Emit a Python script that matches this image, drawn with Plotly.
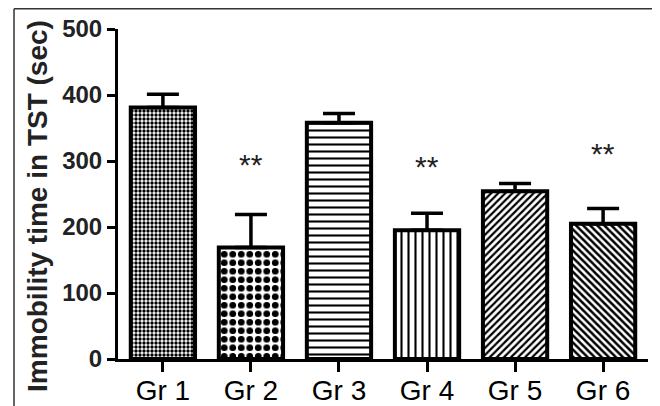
import plotly.graph_objects as go

groups = ["Gr 1", "Gr 2", "Gr 3", "Gr 4", "Gr 5", "Gr 6"]
means = [381, 169, 358, 195, 254, 205]
sem = [20, 50, 14, 26, 12, 23]
sig_groups = ["Gr 2", "Gr 4", "Gr 6"]
sig_y = [295, 292, 312]
sig_text = ["**", "**", "**"]
y_ticks = [0, 100, 200, 300, 400, 500]

pattern_shapes = [".", ".", "-", "|", "/", "\\"]
pattern_sizes = [4, 8.5, 7, 7, 5, 5]
pattern_solid = [0.55, 0.5, 0.3, 0.3, 0.45, 0.5]

FONT = "Liberation Sans, Arial, sans-serif"

fig = go.Figure()
fig.add_trace(go.Bar(
    x=groups, y=means, width=0.73,
    marker=dict(
        color="white",
        line=dict(color="black", width=4),
        pattern=dict(shape=pattern_shapes, size=pattern_sizes,
                     solidity=pattern_solid, fgcolor="black",
                     bgcolor="white", fillmode="replace"),
    ),
    error_y=dict(type="data", symmetric=False, array=sem,
                 arrayminus=[0] * len(sem), color="black",
                 thickness=3.5, width=16),
    showlegend=False,
))

for g, yv, t in zip(sig_groups, sig_y, sig_text):
    fig.add_annotation(x=g, y=yv, text=t, showarrow=False,
                       font=dict(family=FONT, size=30, color="#222"),
                       xanchor="center", yanchor="middle")

fig.add_annotation(x=-0.153, y=0.4636, xref="paper", yref="paper",
                   text="Immobility time in TST (sec)", textangle=-90,
                   showarrow=False, xanchor="center", yanchor="middle",
                   font=dict(family=FONT, size=28, color="#222", weight="bold"))

# outer frame
fig.add_shape(type="line", xref="paper", yref="paper",
              x0=-0.1962, x1=1.0208, y0=1.0614, y1=1.0614,
              line=dict(color="#333", width=1.5))
fig.add_shape(type="line", xref="paper", yref="paper",
              x0=-0.1962, x1=-0.1962, y0=1.0614, y1=-0.25,
              line=dict(color="#333", width=1.5))
fig.add_shape(type="line", xref="paper", yref="paper",
              x0=1.0208, x1=1.0208, y0=1.0614, y1=-0.25,
              line=dict(color="#bbb", width=1.5))

fig.update_layout(
    width=652, height=398,
    margin=dict(l=110, r=12, t=21, b=47, autoexpand=False),
    paper_bgcolor="white", plot_bgcolor="white",
    font=dict(family=FONT, color="black"),
    xaxis=dict(
        range=[-0.51, 5.51], showline=True, linecolor="black", linewidth=3,
        ticks="outside", ticklen=10, tickwidth=2.5, tickcolor="black",
        tickfont=dict(family=FONT, size=28, color="black"),
        ticklabelstandoff=-6,
        showgrid=False, zeroline=False, automargin=False,
    ),
    yaxis=dict(
        range=[0, 500], tickvals=y_ticks, showline=True, linecolor="black",
        linewidth=3, ticks="outside", ticklen=8, tickwidth=3,
        tickcolor="black",
        tickfont=dict(family=FONT, size=24, color="#222", weight="bold"),
        showgrid=False, zeroline=False, automargin=False,
    ),
)

fig.write_html("out.html")
